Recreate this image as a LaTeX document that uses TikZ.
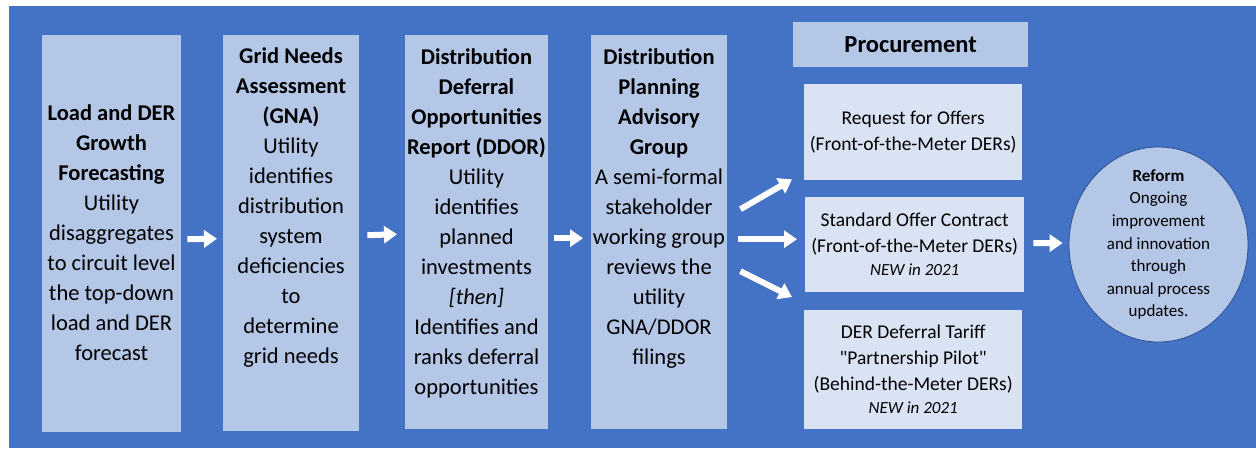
\documentclass[tikz,border=0pt]{standalone}
\usepackage{fontspec}
\setmainfont{Carlito}[Ligatures=TeXOff]
\usetikzlibrary{arrows.meta,shapes.geometric}
\definecolor{bgblue}{HTML}{4472C4}
\definecolor{boxblue}{HTML}{B4C7E7}
\definecolor{lightbox}{HTML}{DAE3F3}
\definecolor{circborder}{HTML}{2F528F}
\begin{document}
\begin{tikzpicture}[x=1pt,y=-1pt,
  stagebox/.style={fill=boxblue, draw=none, inner sep=0pt, anchor=north west},
  stagetext/.style={align=center, inner sep=0pt, anchor=north, text=black,
    font=\fontsize{22.5}{30}\selectfont},
  procbox/.style={fill=lightbox, draw=none, inner sep=0pt, anchor=north west,
    align=center, font=\fontsize{19.5}{26}\selectfont},
  flowarrow/.style={draw=white, line width=6pt, -{Triangle[width=17pt,length=13pt]}}
]
\useasboundingbox (0,0) rectangle (1256,448);
\fill[white] (0,0) rectangle (1256,448);
\fill[bgblue] (9,6) rectangle (1256,448);

% stage boxes
\node[stagebox, minimum width=139pt, minimum height=397pt] (b1) at (42,35) {};
\node[stagebox, minimum width=136pt, minimum height=396pt] (b2) at (223,35) {};
\node[stagebox, minimum width=143pt, minimum height=394pt] (b3) at (405,35) {};
\node[stagebox, minimum width=136pt, minimum height=394pt] (b4) at (591,35) {};

\node[stagetext] (t1) at (111.5,105) {\textbf{Load and DER}\\\textbf{Growth}\\\textbf{Forecasting}\\Utility\\disaggregates\\to circuit level\\the top-down\\load and DER\\forecast};
\node[stagetext] (t2) at (291,48) {\textbf{Grid Needs}\\\textbf{Assessment}\\\textbf{(GNA)}\\Utility\\identifies\\distribution\\system\\deficiencies\\to\\determine\\grid needs};
\node[stagetext] (t3) at (476.5,48) {\textbf{Distribution}\\\textbf{Deferral}\\\textbf{Opportunities}\\\textbf{Report (DDOR)}\\Utility\\identifies\\planned\\investments\\\textit{[then]}\\Identifies and\\ranks deferral\\opportunities};
\node[stagetext] (t4) at (659,48) {\textbf{Distribution}\\\textbf{Planning}\\\textbf{Advisory}\\\textbf{Group}\\A semi-formal\\stakeholder\\working group\\reviews the\\utility\\GNA/DDOR\\filings};

% procurement
\node[fill=boxblue, inner sep=0pt, anchor=north west, minimum width=235pt, minimum height=45pt,
  font=\fontsize{24.5}{28}\selectfont\bfseries] (proc) at (793,22) {Procurement};
\node[procbox, minimum width=218pt, minimum height=96pt] (rfo) at (804,84)
  {Request for Offers\\(Front-of-the-Meter DERs)};
\node[procbox, minimum width=219pt, minimum height=95pt] (soc) at (805,197)
  {Standard Offer Contract\\(Front-of-the-Meter DERs)\\[-3pt]{\fontsize{17}{20}\selectfont\itshape NEW in 2021}};
\node[procbox, minimum width=218pt, minimum height=119pt] (ddt) at (804,310)
  {DER Deferral Tariff\\"Partnership Pilot"\\(Behind-the-Meter DERs)\\[-3pt]{\fontsize{17}{20}\selectfont\itshape NEW in 2021}};

% reform
\node[ellipse, fill=boxblue, draw=circborder, line width=0.8pt, minimum width=179pt,
  minimum height=195pt, inner sep=0pt] (ref) at (1158.5,244.5) {};
\node[align=center, inner sep=0pt, font=\fontsize{17}{22.6}\selectfont] (reft) at (ref.center)
  {\textbf{Reform}\\Ongoing\\improvement\\and innovation\\through\\annual process\\updates.};

% arrows
\draw[flowarrow] ([xshift=6pt,yshift=-5.5pt]b1.east) -- ([xshift=-6pt,yshift=-5.5pt]b2.west);
\draw[flowarrow] ([xshift=8pt,yshift=-2pt]b2.east) -- ([xshift=-8pt,yshift=-2pt]b3.west);
\draw[flowarrow] ([xshift=6pt,yshift=-6pt]b3.east) -- ([xshift=-8pt,yshift=-6pt]b4.west);
\draw[flowarrow] ([xshift=13pt,yshift=23pt]b4.east) -- ([xshift=-12pt,yshift=1pt]rfo.south west);
\draw[flowarrow] ([xshift=11pt,yshift=-7pt]b4.east) -- ([xshift=-8pt,yshift=5.5pt]soc.west);
\draw[flowarrow] ([xshift=13pt,yshift=-39pt]b4.east) -- ([xshift=-12pt,yshift=13pt]ddt.north west);
\draw[flowarrow] ([xshift=9pt,yshift=1.5pt]soc.east) -- ([xshift=-6pt,yshift=1.5pt]ref.west);
\end{tikzpicture}
\end{document}
